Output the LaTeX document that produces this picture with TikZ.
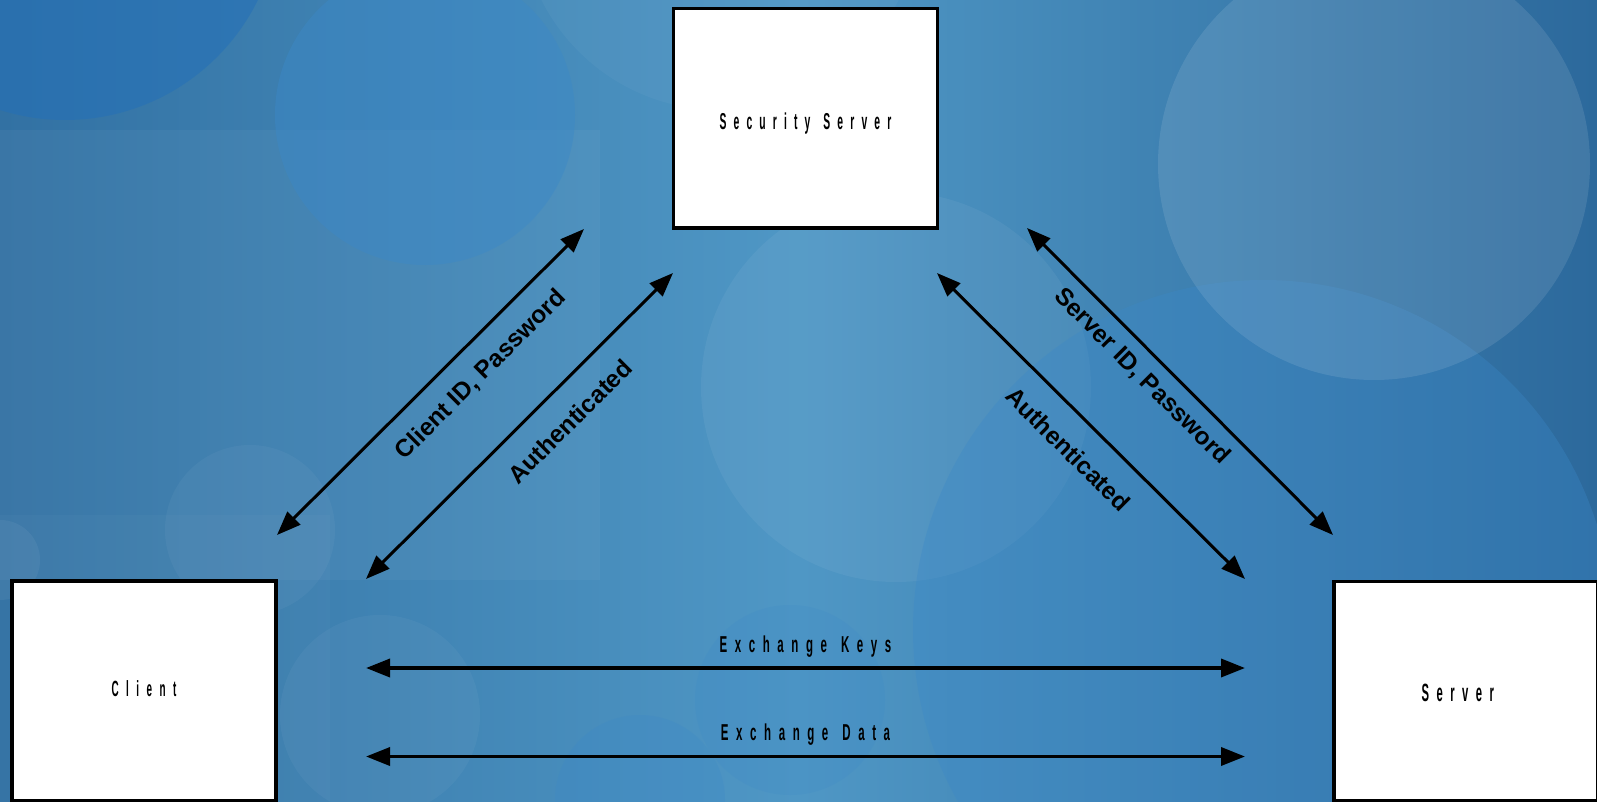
\documentclass[tikz,border=0pt]{standalone}
\usepackage{fontspec}
\setmainfont{Liberation Sans}
\newfontfamily\narrowbold[FakeStretch=0.45]{Liberation Sans Bold}
\newfontfamily\exbold[FakeStretch=0.5]{Liberation Sans Bold}
\usetikzlibrary{arrows.meta}
\newcommand{\spaced}[2]{{\addfontfeature{LetterSpace=#1}#2}}
\definecolor{bgL}{HTML}{3271A3}
\definecolor{bgM}{HTML}{4F97C5}
\definecolor{bgR}{HTML}{2C699C}
\definecolor{deepblue}{HTML}{2470B8}
\definecolor{midblue}{HTML}{3B88C8}
\begin{document}
\begin{tikzpicture}[x=1pt,y=-1pt,
  box/.style={draw=black, line width=3.5pt, fill=white, inner sep=0pt,
    minimum width=264pt, minimum height=219.5pt},
  biarrow/.style={{Triangle[length=24pt,width=18pt]}-{Triangle[length=24pt,width=18pt]},
    line width=3pt, black},
  difont/.style={font=\fontsize{24.5}{28}\bfseries\selectfont, inner sep=0pt},
  exfont/.style={font=\exbold\fontsize{23}{26}\selectfont, inner sep=0pt},
  boxfont/.style={font=\narrowbold\fontsize{#1}{#1}\selectfont}
]
\useasboundingbox (0,0) rectangle (1597,802);
\shade[left color=bgL, right color=bgR, middle color=bgM] (0,0) rectangle (1597,802);
\begin{scope}
  \clip (0,0) rectangle (1597,802);
  \fill[white, opacity=0.04] (0,130) rectangle (600,580);
  \fill[white, opacity=0.025] (0,515) rectangle (330,802);
  \fill[deepblue, opacity=0.55] (65,-95) circle[radius=215];
  \fill[midblue, opacity=0.45] (425,115) circle[radius=150];
  \fill[white, opacity=0.035] (720,-90) circle[radius=200];
  \fill[white, opacity=0.05] (896,387) circle[radius=195];
  \fill[midblue, opacity=0.35] (1263,630) circle[radius=350];
  \fill[white, opacity=0.10] (1374,164) circle[radius=216];
  \fill[white, opacity=0.04] (250,530) circle[radius=85];
  \fill[white, opacity=0.04] (380,715) circle[radius=100];
  \fill[midblue, opacity=0.25] (640,800) circle[radius=85];
  \fill[midblue, opacity=0.2] (790,700) circle[radius=95];
  \fill[white, opacity=0.05] (0,560) circle[radius=40];
\end{scope}

\node[box, boxfont=23, text height=22.4pt, text depth=0pt] (sec) at (805.5,118.1)
  {\spaced{31}{Security}\kern13pt\spaced{31}{Server}};
\node[box, boxfont=22, text height=11pt, text depth=0pt] (client) at (144,690.5)
  {\spaced{34}{Client}};
\node[box, boxfont=25, text height=21.4pt, text depth=0pt] (server) at (1465.8,691)
  {\kern-16pt\spaced{30}{Server}};

\coordinate (lo1) at (277,535);  \coordinate (lo2) at (584,229);
\coordinate (li1) at (366,579);  \coordinate (li2) at (673,273);
\coordinate (ro1) at (1027,228); \coordinate (ro2) at (1333,535);
\coordinate (ri1) at (937,273);  \coordinate (ri2) at (1245,579);
\coordinate (kl) at (366,668);   \coordinate (kr) at (1245,668);
\coordinate (dl) at (366,756.5); \coordinate (dr) at (1245,756.5);

\draw[biarrow] (lo1) -- (lo2)
  node[difont, pos=0.594, sloped, yshift=-30.5pt] (lbl1) {Client ID, Password};
\draw[biarrow] (li1) -- (li2)
  node[difont, pos=0.59, sloped, yshift=-32.5pt] (lbl2) {Authenticated};
\draw[biarrow] (ro1) -- (ro2)
  node[difont, pos=0.43, sloped, yshift=-23.5pt] (lbl3) {Server ID, Password};
\draw[biarrow] (ri1) -- (ri2)
  node[difont, pos=0.5, sloped, yshift=-32.5pt] (lbl4) {Authenticated};

\draw[biarrow, line width=3.5pt] (kl) -- (kr)
  node[exfont, midway, anchor=base, yshift=16pt] (lbl5)
  {\spaced{33}{Exchange}\kern14pt\spaced{33}{Keys}};
\draw[biarrow, line width=3.5pt] (dl) -- (dr)
  node[exfont, midway, anchor=base, yshift=16pt] (lbl6)
  {\spaced{33}{Exchange}\kern14pt\spaced{33}{Data}};
\end{tikzpicture}
\end{document}
